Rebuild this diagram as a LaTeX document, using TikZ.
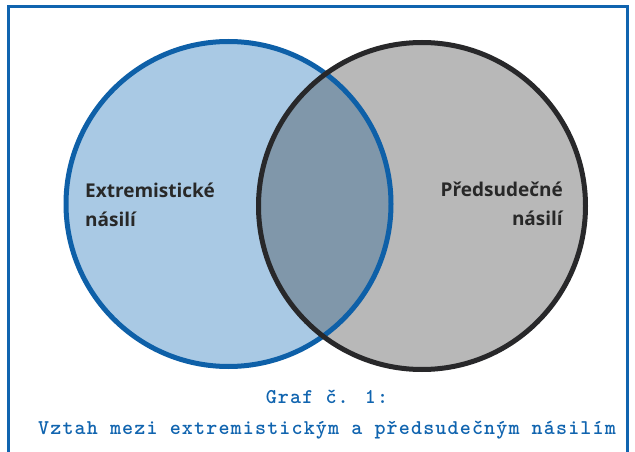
\documentclass[tikz,border=0pt]{standalone}
\usepackage{fontspec}
\setmainfont{Open Sans}
\newfontfamily\capfont{lmmonolt10-bold.otf}[LetterSpace=5.5]

\definecolor{extrFill}{RGB}{169,201,228}
\definecolor{extrLine}{RGB}{14,96,168}
\definecolor{predFill}{RGB}{184,184,184}
\definecolor{predLine}{RGB}{40,40,42}
\definecolor{bothFill}{RGB}{128,151,170}
\definecolor{labelDark}{RGB}{40,40,40}
\definecolor{frameBlue}{RGB}{16,100,175}

\begin{document}
\begin{tikzpicture}[x=1pt,y=-1pt,
  ring/.style={line width=5pt},
  setlabel/.style={font=\bfseries\fontsize{19}{29}\selectfont, text=labelDark, inner sep=0pt},
  captext/.style={font=\capfont\fontsize{21}{31}\selectfont, text=frameBlue, inner sep=0pt}]

\useasboundingbox (0,0) rectangle (635,452);

% frame, open at the bottom
\draw[frameBlue, line width=3pt, line join=miter] (8.5,452) -- (8.5,6.5) -- (627.5,6.5) -- (627.5,452);

\coordinate (extr) at (228.5,204);
\coordinate (pred) at (422,206);

% the two sets
\fill[extrFill] (extr) circle (162.5pt);
\fill[predFill] (pred) circle (163.5pt);
\begin{scope}
  \clip (extr) circle (162.5pt);
  \fill[bothFill] (pred) circle (163.5pt);
\end{scope}
\draw[ring, extrLine] (extr) circle (162.5pt);
\draw[ring, predLine] (pred) circle (163.5pt);

% base anchor sits on the last line
\node[setlabel, align=left, anchor=base west] (extrLabel) at (85,226) {Extremistické\\násilí};
\node[setlabel, align=right, anchor=base east] (predLabel) at (563,225) {Předsudečné\\násilí};

\node[captext, align=center, anchor=base] (caption) at (327,434) {Graf č. 1:\\Vztah mezi extremistickým a předsudečným násilím};

\end{tikzpicture}
\end{document}
